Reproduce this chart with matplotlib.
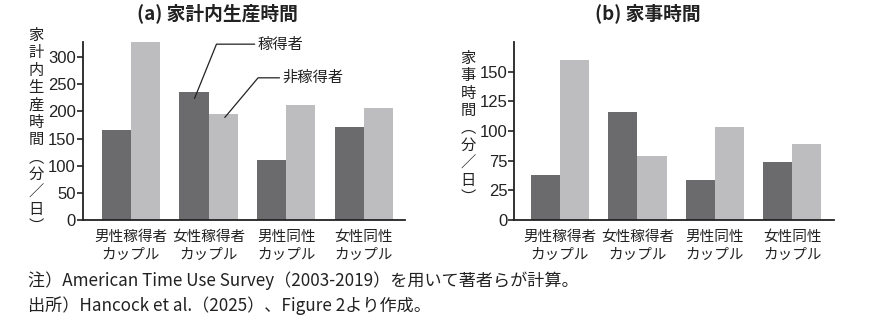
import numpy as np
import matplotlib.pyplot as plt

plt.rcParams['font.family'] = ['Noto Sans CJK JP', 'DejaVu Sans']

# categories and values (minutes per day)
categories = ['男性稼得者\nカップル', '女性稼得者\nカップル', '男性同性\nカップル', '女性同性\nカップル']
prod_earner = [166, 235, 111, 171]
prod_nonearner = [328, 196, 211, 207]
house_earner = [38, 91, 34, 49]
house_nonearner = [135, 54, 78, 64]

prod_ticks = [0, 50, 100, 150, 200, 250, 300]
house_ticks = [0, 25, 50, 75, 100, 125]
house_ticklabels = ['0', '25', '75', '100', '125', '150']  # as printed in the source

dark = '#6b6b6d'
light = '#bdbdbf'
w = 0.377

fig = plt.figure(figsize=(8.69, 3.26), dpi=100)
ax1 = fig.add_axes([82.7/869, 1-220/326, (405-82.7)/869, 178/326])
ax2 = fig.add_axes([514.3/869, 1-220/326, (834-514.3)/869, 178/326])

x = np.arange(len(categories))

def style(ax):
    for s in ['top', 'right']:
        ax.spines[s].set_visible(False)
    for s in ['left', 'bottom']:
        ax.spines[s].set_linewidth(1.3)
        ax.spines[s].set_color('#222222')
    ax.tick_params(axis='y', length=4, width=1.2, color='#222222', pad=1,
                   labelsize=12, labelcolor='#222222')
    ax.tick_params(axis='x', length=0, pad=7, labelsize=10.5, labelcolor='#222222')
    for lab in ax.get_yticklabels():
        lab.set_family(['Liberation Sans Narrow', 'Liberation Sans'])
    ax.set_xticks(x)
    ax.set_xticklabels(categories, linespacing=1.4)

# (a)
ax1.bar(x - w, prod_earner, w, align='edge', color=dark)
ax1.bar(x, prod_nonearner, w, align='edge', color=light)
ax1.set_xlim(-0.62, 3.53)
ax1.set_ylim(0, 328)
ax1.set_yticks(prod_ticks)
style(ax1)

# (b)
ax2.bar(x - w, house_earner, w, align='edge', color=dark)
ax2.bar(x, house_nonearner, w, align='edge', color=light)
ax2.set_xlim(-0.59, 3.54)
ax2.set_ylim(0, 150)
ax2.set_yticks(house_ticks)
ax2.set_yticklabels(house_ticklabels)
style(ax2)

# legend callouts
ax1.annotate('稼得者', xy=(0.82, 224), xytext=(1.63, 324), ha='left', va='center',
             fontsize=11, color='#222222', annotation_clip=False,
             arrowprops=dict(arrowstyle='-', color='#222222', lw=0.9, relpos=(0, 0.5),
                             shrinkA=0, shrinkB=0,
                             connectionstyle='angle,angleA=0,angleB=68,rad=0'))
ax1.annotate('非稼得者', xy=(1.21, 189), xytext=(1.95, 262), ha='left', va='center',
             fontsize=11, color='#222222', annotation_clip=False,
             arrowprops=dict(arrowstyle='-', color='#222222', lw=0.9, relpos=(0, 0.5),
                             shrinkA=0, shrinkB=0,
                             connectionstyle='angle,angleA=0,angleB=50,rad=0'))

# titles
fig.text(217/869, 1-13/326, '(a) 家計内生産時間', ha='center', va='center',
         fontsize=13.5, fontweight='bold', color='#222222')
fig.text(648/869, 1-13/326, '(b) 家事時間', ha='center', va='center',
         fontsize=13.5, fontweight='bold', color='#222222')

# vertical y labels
fig.text(36/869, 1-131/326, '\n'.join('家計内生産時間︵分／日︶'), ha='center', va='center',
         fontsize=11, linespacing=1.03, color='#222222')
fig.text(468/869, 1-128/326, '\n'.join('家事時間︵分／日︶'), ha='center', va='center',
         fontsize=11, linespacing=1.03, color='#222222')

# notes
fig.text(28/869, 1-281/326, '注）American Time Use Survey（2003-2019）を用いて著者らが計算。',
         ha='left', va='center', fontsize=12.3, color='#222222')
fig.text(28/869, 1-306/326, '出所）Hancock et al.（2025）、Figure 2より作成。',
         ha='left', va='center', fontsize=12.3, color='#222222')

fig.savefig('out.png', dpi=100)
